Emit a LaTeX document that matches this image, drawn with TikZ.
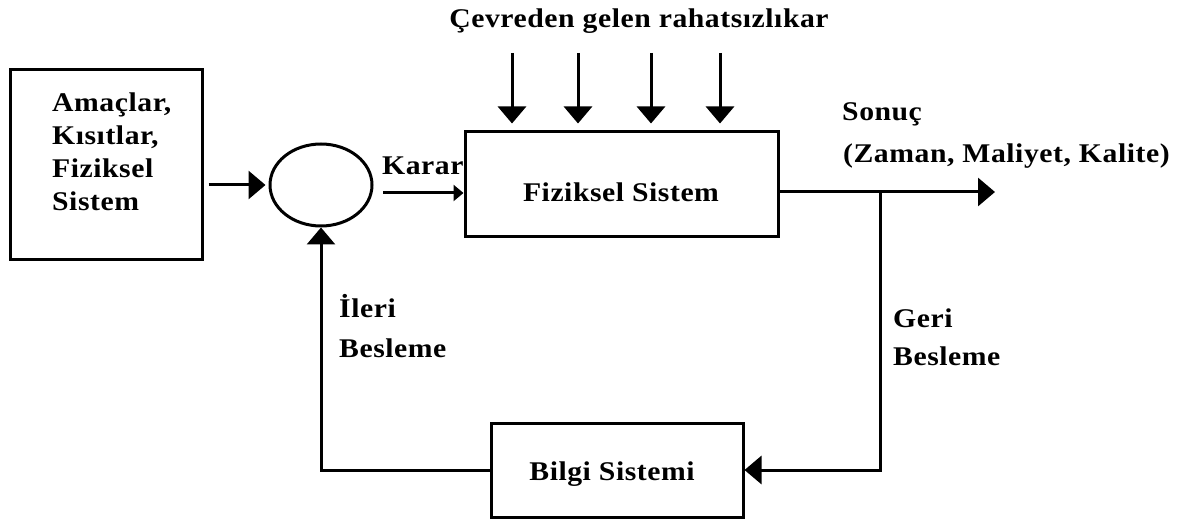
\documentclass[tikz,border=0pt]{standalone}
\usepackage{fontspec}
\setmainfont{Liberation Serif}[FakeStretch=1.1, LetterSpace=2]
\usetikzlibrary{arrows.meta,shapes.geometric,calc}

\tikzset{
  lbl/.style={font=\fontsize{27}{33}\selectfont\bfseries, inner sep=0pt, anchor=base west},
  box/.style={draw, line width=3pt, rectangle, inner sep=0pt},
  wire/.style={line width=3pt},
  arr/.style={wire, -{Triangle[length=17pt,width=28pt]}},
  sarr/.style={wire, -{Triangle[length=10pt,width=16pt]}},
}

\begin{document}
\begin{tikzpicture}[x=1pt,y=-1pt]
\useasboundingbox (0,0) rectangle (1194,521);

% blocks
\node[box, minimum width=192pt, minimum height=190pt] (goals) at (106,165) {};
\node[draw, ellipse, line width=3pt, minimum width=102pt, minimum height=82pt, inner sep=0pt] (circ) at (321,185) {};
\node[box, minimum width=313pt, minimum height=105pt] (fiz) at (621.5,184.5) {};
\node[box, minimum width=252pt, minimum height=94pt] (bil) at (617,470) {};

% text inside the blocks
\node[lbl] (g1) at (52,112) {Amaçlar,};
\node[lbl] (g2) at (52,145) {Kısıtlar,};
\node[lbl] (g3) at (52,178) {Fiziksel};
\node[lbl] (g4) at (52,211) {Sistem};
\node[lbl, anchor=base] (fizt) at (621,202) {Fiziksel Sistem};
\node[lbl, anchor=base] (bilt) at (612,480) {Bilgi Sistemi};

% labels
\node[lbl, anchor=base] (title) at (639,28) {Çevreden gelen rahatsızlıkar};
\node[lbl] (karar) at (382,175) {Karar};
\node[lbl] (s1) at (842,121) {Sonuç};
\node[lbl] (s2) at (843,163) {(Zaman, Maliyet, Kalite)};
\node[lbl] (geri1) at (893,327) {Geri};
\node[lbl] (geri2) at (893,365) {Besleme};
\node[lbl] (ileri1) at (339,318) {İleri};
\node[lbl] (ileri2) at (339,357) {Besleme};

% junction and output end
\coordinate (j) at (880,192);
\coordinate (outend) at (995,192);
\coordinate (k0) at (383,193);

% disturbance inputs
\foreach \x [count=\i] in {512,578,651,720} {
  \coordinate (d\i) at (\x,53);
  \draw[arr, shorten >=7pt] (d\i) -- (d\i |- fiz.north);
}

% forward path
\draw[arr, shorten <=5pt, shorten >=3pt] (goals.east |- circ.west) -- (circ.west);
\draw[sarr] (k0) -- (k0 -| fiz.west);
\draw[arr] (fiz.east |- j) -- (outend);

% feedback loop
\draw[arr] (j) -- (j |- bil.east) -- (bil.east);
\draw[arr] (bil.west) -- (bil.west -| circ.south) -- (circ.south);
\end{tikzpicture}
\end{document}
